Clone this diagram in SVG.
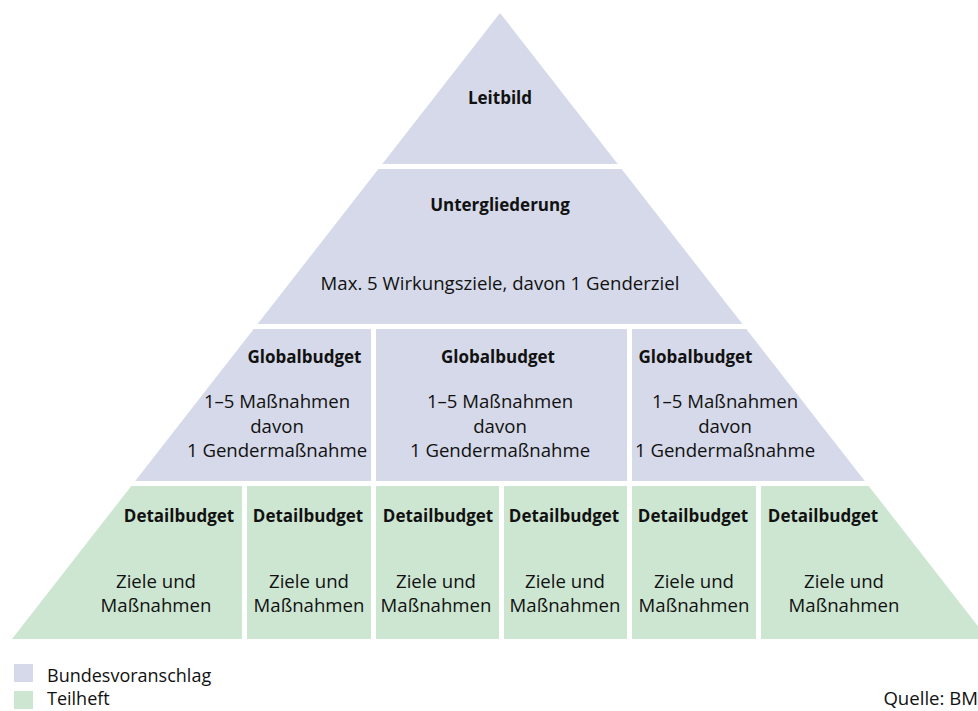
<svg xmlns="http://www.w3.org/2000/svg" width="978" height="711" viewBox="0 0 978 711">
<style>
.b{fill:#D5D9E9}
.g{fill:#CDE6D1}
text{font-family:"Open Sans","Noto Sans",sans-serif;fill:#111;text-anchor:middle}
.h{font-weight:bold;font-size:17px}
.t{font-size:18.6px}
.l{font-size:18px;text-anchor:start}
</style>
<rect width="978" height="711" fill="#fff"/>
<g id="leitbild">
<polygon class="b" points="500,13 617.7,164 382.3,164"/>
<text class="h" x="500" y="104">Leitbild</text>
</g>
<g id="untergliederung">
<polygon class="b" points="378.4,169 621.6,169 742.4,324 257.6,324"/>
<text class="h" x="500" y="211">Untergliederung</text>
<text class="t" x="500" y="290">Max. 5 Wirkungsziele, davon 1 Genderziel</text>
</g>
<g id="globalbudget1">
<polygon class="b" points="253.7,329 371,329 371,481 135.2,481"/>
<text class="h" x="304.5" y="363">Globalbudget</text>
<text class="t" x="277" y="408">1–5 Maßnahmen</text>
<text class="t" x="277" y="433">davon</text>
<text class="t" x="277" y="457">1 Gendermaßnahme</text>
</g>
<g id="globalbudget2">
<rect class="b" x="376" y="329" width="251" height="152"/>
<text class="h" x="498" y="363">Globalbudget</text>
<text class="t" x="500" y="408">1–5 Maßnahmen</text>
<text class="t" x="500" y="433">davon</text>
<text class="t" x="500" y="457">1 Gendermaßnahme</text>
</g>
<g id="globalbudget3">
<polygon class="b" points="632,329 746.3,329 864.8,481 632,481"/>
<text class="h" x="695.5" y="363">Globalbudget</text>
<text class="t" x="725" y="408">1–5 Maßnahmen</text>
<text class="t" x="725" y="433">davon</text>
<text class="t" x="725" y="457">1 Gendermaßnahme</text>
</g>
<g id="detailbudget1">
<polygon class="g" points="131.3,486 242,486 242,639 12,639"/>
<text class="h" x="179" y="522">Detailbudget</text>
<text class="t" x="156" y="588">Ziele und</text>
<text class="t" x="156" y="612">Maßnahmen</text>
</g>
<g id="detailbudget2">
<rect class="g" x="247" y="486" width="124" height="153"/>
<text class="h" x="308" y="522">Detailbudget</text>
<text class="t" x="309" y="588">Ziele und</text>
<text class="t" x="309" y="612">Maßnahmen</text>
</g>
<g id="detailbudget3">
<rect class="g" x="376" y="486" width="123" height="153"/>
<text class="h" x="438" y="522">Detailbudget</text>
<text class="t" x="436" y="588">Ziele und</text>
<text class="t" x="436" y="612">Maßnahmen</text>
</g>
<g id="detailbudget4">
<rect class="g" x="504" y="486" width="123" height="153"/>
<text class="h" x="564" y="522">Detailbudget</text>
<text class="t" x="565" y="588">Ziele und</text>
<text class="t" x="565" y="612">Maßnahmen</text>
</g>
<g id="detailbudget5">
<rect class="g" x="632" y="486" width="124" height="153"/>
<text class="h" x="693" y="522">Detailbudget</text>
<text class="t" x="694" y="588">Ziele und</text>
<text class="t" x="694" y="612">Maßnahmen</text>
</g>
<g id="detailbudget6">
<polygon class="g" points="761,486 868.7,486 988,639 761,639"/>
<text class="h" x="823" y="522">Detailbudget</text>
<text class="t" x="844" y="588">Ziele und</text>
<text class="t" x="844" y="612">Maßnahmen</text>
</g>
<g id="legend">
<rect class="b" x="14" y="664" width="19" height="18"/>
<rect class="g" x="14" y="691" width="19" height="18"/>
<text class="l" x="47" y="682">Bundesvoranschlag</text>
<text class="l" x="47" y="705">Teilheft</text>
</g>
<g id="source">
<text class="t" x="978" y="705" style="text-anchor:end">Quelle: BM</text>
</g>
</svg>
